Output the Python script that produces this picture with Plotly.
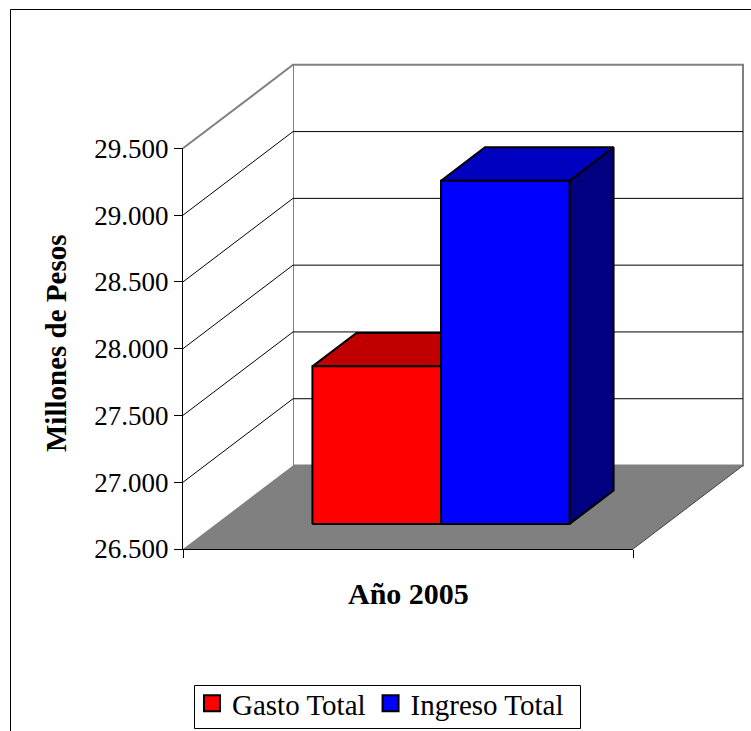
import plotly.graph_objects as go

# ---------------- data ----------------
categories = ["Año 2005"]
series_names = ["Gasto Total", "Ingreso Total"]
series_values = [27680, 29070]
y_tick_values = [26500, 27000, 27500, 28000, 28500, 29000, 29500]
y_axis_title = "Millones de Pesos"

# ---------------- styling ----------------
front_colors = ["#FF0000", "#0000FF"]
top_colors = ["#C00000", "#0000C0"]
side_colors = ["#800000", "#000080"]
FONT = "Liberation Serif, Times New Roman, Times, serif"

W, H = 751, 731
# pixel frame of the front plane of the 3-D box
FRONT_L, FRONT_R = 183.0, 633.0
FRONT_BOTTOM, FRONT_TOP = 549.0, 148.3
# oblique depth offset of the box (pixels)
DEPTH_PX_X, DEPTH_PX_Y = 110.0, 83.5
# extent of the plotting region holding walls, floor and bars
AREA_L, AREA_R, AREA_T, AREA_B = 174.0, 751.0, 50.0, FRONT_BOTTOM
# legend frame (pixels)
LEG_L, LEG_R, LEG_T, LEG_B = 194.5, 580.5, 685.5, 728.5

y_min, y_max = y_tick_values[0], y_tick_values[-1]
px_per_y = (FRONT_BOTTOM - FRONT_TOP) / (y_max - y_min)
px_per_x = FRONT_R - FRONT_L          # the category band spans x = 0..1
DX = DEPTH_PX_X / px_per_x
DY = DEPTH_PX_Y / px_per_y

# bar layout inside the band (gap width 150 %), bars sit mid-depth
n_series = len(series_values)
bar_w = 1.0 / (n_series + 1.5)
band_center = 0.5
d_front, d_back = 0.3, 0.7


def project(x, v, d):
    """Oblique projection: depth d (0 = front, 1 = back) shifts right and up."""
    return x + d * DX, v + d * DY


def poly(points):
    xs, ys = [], []
    for x, v, d in points:
        px, py = project(x, v, d)
        xs.append(px)
        ys.append(py)
    xs.append(xs[0])
    ys.append(ys[0])
    return xs, ys


def polyline(points):
    xs, ys = [], []
    for p in points:
        if p is None:
            xs.append(None)
            ys.append(None)
        else:
            px, py = project(*p)
            xs.append(px)
            ys.append(py)
    return xs, ys


fig = go.Figure()


def add_face(points, fill, line_color, line_width):
    xs, ys = poly(points)
    fig.add_trace(go.Scatter(
        x=xs, y=ys, mode="lines", fill="toself", fillcolor=fill,
        line=dict(color=line_color, width=line_width),
        showlegend=False, hoverinfo="skip"))


def add_line(points, color, width):
    xs, ys = polyline(points)
    fig.add_trace(go.Scatter(
        x=xs, y=ys, mode="lines", line=dict(color=color, width=width),
        showlegend=False, hoverinfo="skip", connectgaps=False))


# back wall and side wall
add_face([(0, y_min, 1), (1, y_min, 1), (1, y_max, 1), (0, y_max, 1)], "white", "#808080", 2)
add_face([(0, y_min, 0), (0, y_min, 1), (0, y_max, 1), (0, y_max, 0)], "white", "rgba(0,0,0,0)", 0)
add_line([(0, y_max, 0), (0, y_max, 1)], "#808080", 2)

# gridlines on the side wall and back wall
grid_pts = []
for v in y_tick_values[1:-1]:
    grid_pts += [(0, v, 0), (0, v, 1), (1, v, 1), None]
add_line(grid_pts, "black", 1)

# floor
add_face([(0, y_min, 0), (1, y_min, 0), (1, y_min, 1), (0, y_min, 1)], "#808080", "rgba(0,0,0,0)", 0)
add_line([(1, y_min, 0), (1, y_min, 1)], "#404040", 1)

# 3-D bars
for i, (name, val) in enumerate(zip(series_names, series_values)):
    xl = band_center - n_series * bar_w / 2 + i * bar_w
    xr = xl + bar_w
    base = y_min
    add_face([(xr, base, d_front), (xr, base, d_back), (xr, val, d_back), (xr, val, d_front)],
             side_colors[i], "black", 2)
    add_face([(xl, val, d_front), (xr, val, d_front), (xr, val, d_back), (xl, val, d_back)],
             top_colors[i], "black", 2)
    add_face([(xl, base, d_front), (xr, base, d_front), (xr, val, d_front), (xl, val, d_front)],
             front_colors[i], "black", 2)

# legend entries
for name, col in zip(series_names, front_colors):
    fig.add_trace(go.Scatter(
        x=[None], y=[None], mode="markers", name=name,
        marker=dict(symbol="square", size=18, color=col, line=dict(color="black", width=2)),
        hoverinfo="skip"))

# front value / category axes
fig.add_trace(go.Scatter(x=[None], y=[None], xaxis="x2", yaxis="y2",
                         showlegend=False, hoverinfo="skip"))

x_range = [(AREA_L - FRONT_L) / px_per_x, (AREA_R - FRONT_L) / px_per_x]
y_range = [y_min, y_min + (AREA_B - AREA_T) / px_per_y]

fig.update_layout(
    width=W, height=H,
    margin=dict(l=0, r=0, t=0, b=0, autoexpand=False),
    paper_bgcolor="white", plot_bgcolor="rgba(0,0,0,0)",
    separators=",.",
    font=dict(family=FONT, color="black"),
    xaxis=dict(domain=[AREA_L / W, AREA_R / W], range=x_range, type="linear",
               visible=False, fixedrange=True),
    yaxis=dict(domain=[1 - AREA_B / H, 1 - AREA_T / H], range=y_range,
               visible=False, fixedrange=True),
    xaxis2=dict(domain=[FRONT_L / W, FRONT_R / W], range=[0, 1], anchor="y2",
                showline=True, linecolor="black", linewidth=1,
                ticks="outside", tickvals=[0, 1], ticklen=8, tickcolor="black",
                showticklabels=False, showgrid=False, zeroline=False, fixedrange=True),
    yaxis2=dict(domain=[1 - FRONT_BOTTOM / H, 1 - FRONT_TOP / H], range=[y_min, y_max],
                anchor="x2", showline=True, linecolor="black", linewidth=1,
                ticks="outside", tickvals=y_tick_values, tickformat=",.0f",
                ticklen=8, tickcolor="black",
                tickfont=dict(size=27, family=FONT, color="black"),
                showgrid=False, zeroline=False, fixedrange=True),
    legend=dict(orientation="h", x=192 / W, y=1 - 678 / H, xanchor="left", yanchor="top",
                borderwidth=0, bgcolor="rgba(0,0,0,0)",
                font=dict(size=29, family=FONT, color="black"),
                traceorder="normal"),
    showlegend=True,
)

fig.add_annotation(text="<b>" + y_axis_title + "</b>", xref="paper", yref="paper",
                   x=56 / W, y=1 - 343 / H, textangle=-90, showarrow=False,
                   font=dict(size=29, family=FONT, color="black"),
                   xanchor="center", yanchor="middle")
fig.add_annotation(text="<b>" + categories[0] + "</b>", xref="paper", yref="paper",
                   x=(FRONT_L + FRONT_R) / 2 / W, y=1 - 593 / H, showarrow=False,
                   font=dict(size=30, family=FONT, color="black"),
                   xanchor="center", yanchor="middle")

# legend frame
fig.add_shape(type="rect", xref="paper", yref="paper",
              x0=LEG_L / W, x1=LEG_R / W, y0=1 - LEG_B / H, y1=1 - LEG_T / H,
              line=dict(color="black", width=1), fillcolor="rgba(0,0,0,0)")

# outer chart frame
fig.add_shape(type="rect", xref="paper", yref="paper",
              x0=10.5 / W, x1=1.05, y0=-0.05, y1=1 - 9.5 / H,
              line=dict(color="black", width=1), fillcolor="rgba(0,0,0,0)")

fig.write_html("out.html")
